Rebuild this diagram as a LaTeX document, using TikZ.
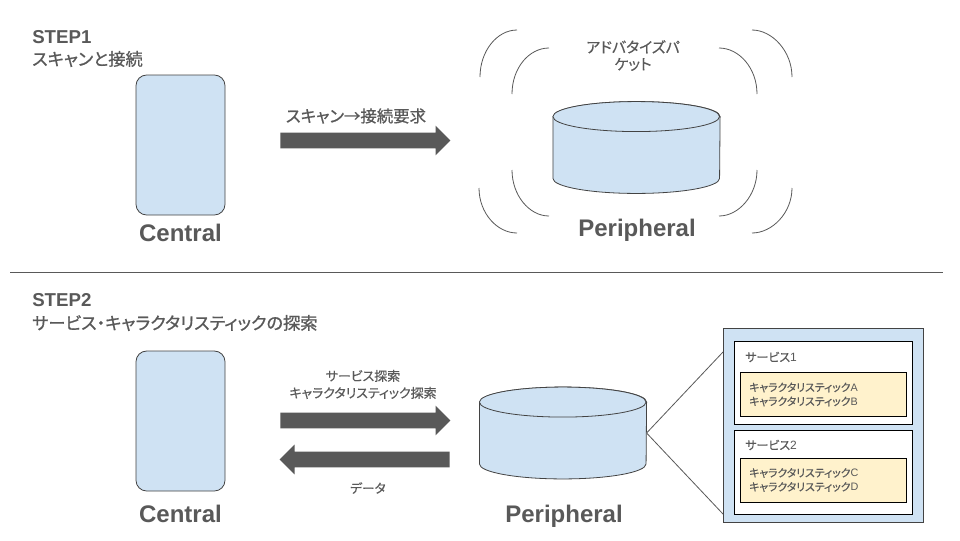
\documentclass[tikz,border=0pt]{standalone}
\usepackage{fontspec}
\setmainfont{Liberation Sans}
\newfontfamily\jp[RawFeature=+palt,FakeBold=0.3]{Noto Sans CJK JP}
\newfontfamily\jpm[RawFeature=+palt,FakeBold=0.9]{Noto Sans CJK JP}
\usetikzlibrary{shapes.arrows,calc}
\definecolor{txt}{HTML}{595959}
\definecolor{edge}{HTML}{434343}
\definecolor{blue1}{HTML}{CFE2F3}
\definecolor{yel}{HTML}{FFF2CC}
\tikzset{
  x=0.75pt,y=-0.75pt,
  lbl/.style={inner sep=0pt,text=txt,font=\jp},
  phone/.style={draw=edge,fill=blue1,rounded corners=8pt,line width=0.6pt,minimum width=66.75pt,minimum height=105pt,inner sep=0pt},
  cylbox/.style={inner sep=0pt,minimum width=125pt,minimum height=68.5pt},
  cylbody/.style={draw=edge,fill=blue1,line width=0.6pt},
  wave/.style={draw=txt,line width=0.6pt},
  bigarrow/.style={single arrow,fill=txt,draw=none,inner sep=0pt,text height=11.25pt,text depth=0pt,minimum height=127.5pt,single arrow head extend=5.25pt,single arrow head indent=0pt,shape border rotate=#1,anchor=tail},
  bigarrow/.default=0,
  outer/.style={draw=edge,fill=blue1,line width=0.7pt,inner sep=0pt,minimum width=150pt,minimum height=146pt},
  svc/.style={draw=black,fill=white,line width=0.7pt,inner sep=0pt,minimum width=133.5pt},
  chr/.style={draw=black,fill=yel,line width=0.7pt,inner sep=0pt,minimum width=124.5pt,minimum height=33pt},
  bigname/.style={inner sep=0pt,text=txt,font=\fontsize{18}{20}\selectfont\bfseries},
  head/.style={inner sep=0pt,text=txt,anchor=west,font=\fontsize{14}{16}\selectfont\bfseries},
  headjp/.style={inner sep=0pt,text=txt,anchor=west,font=\jpm\fontsize{12.9}{14}\selectfont},
}
\newcommand{\cyl}[1]{%
  \path[cylbody] ($(#1.north west)+(0,-11.25pt)$) -- ($(#1.south west)+(0,11.25pt)$)
    arc[start angle=180,end angle=360,x radius=62.5pt,y radius=11.25pt]
    -- ($(#1.north east)+(0,-11.25pt)$)
    arc[start angle=0,end angle=180,x radius=62.5pt,y radius=11.25pt] -- cycle;
  \path[cylbody] ($(#1.north west)+(0,-11.25pt)$)
    arc[start angle=180,end angle=540,x radius=62.5pt,y radius=11.25pt];
}
\begin{document}
\begin{tikzpicture}
\useasboundingbox (0,0) rectangle (960,540);
\fill[white] (0,0) rectangle (960,540);

% STEP 1
\node[head] (s1) at (32,37) {STEP1};
\node[headjp] (s1b) at (32,59) {スキャンと接続};
\node[phone] (c1) at (180.5,145) {};
\node[bigname] (c1l) at (180.5,233) {Central};
\node[bigarrow] (a1) at (280,140.5) {};
\node[lbl,font=\jpm\fontsize{12.3}{14}\selectfont] (a1l) at (356,116) {スキャン→接続要求};
\node[cylbox] (p1) at (636.5,147.5) {};
\node[bigname] (p1l) at (637,230) {Peripheral};
\node[lbl,align=center,font=\jp\fontsize{11.2}{12.75}\selectfont] (adv) at (633,55.5) {アドバタイズパ\\ケット};
\path[wave] (480,77) .. controls (480,51) and (497,30) .. (517,30);
\path[wave] (512,94) .. controls (512,68) and (529,48) .. (549,48);
\path[wave] (479,188) .. controls (479,213) and (497,233) .. (517,233);
\path[wave] (512,170) .. controls (512,195) and (529,216) .. (549,216);
\path[wave] (752,30) .. controls (772,30) and (792,51) .. (792,77);
\path[wave] (719,48) .. controls (739,48) and (757,68) .. (757,94);
\path[wave] (792,188) .. controls (792,213) and (772,233) .. (752,233);
\path[wave] (757,170) .. controls (757,195) and (739,216) .. (719,216);

% separator
\coordinate (sepl) at (10,272);
\coordinate (sepr) at (943,272);
\draw[draw=txt,line width=0.5pt] (sepl) -- (sepr);

% STEP 2
\node[head] (s2) at (32,300) {STEP2};
\node[headjp] (s2b) at (32,323) {サービス・キャラクタリスティックの探索};
\node[phone] (c2) at (180.5,421) {};
\node[bigname] (c2l) at (180.5,514) {Central};
\node[bigarrow] (a2) at (280,420.5) {};
\node[bigarrow=180] (a3) at (450,459.5) {};
\node[lbl,align=center,font=\jp\fontsize{9.7}{12.75}\selectfont] (a2l) at (363,384.5) {サービス探索\\キャラクタリスティック探索};
\node[lbl,font=\jp\fontsize{9.5}{11}\selectfont] (a3l) at (368,488) {データ};
\node[cylbox] (p2) at (563,433) {};
\node[bigname] (p2l) at (564,516) {Peripheral};

\node[outer] (box) at (823,425.5) {};
\node[svc,minimum height=62.25pt] (sv1) at (823,382.5) {};
\node[svc,minimum height=63pt] (sv2) at (823,472) {};
\node[chr] (ch1) at (823,394) {};
\node[chr] (ch2) at (823,480) {};
\node[lbl,anchor=west,font=\jp\fontsize{9}{10}\selectfont] (sv1l) at (745,357) {サービス\fontspec{Liberation Sans}1};
\node[lbl,anchor=west,font=\jp\fontsize{9}{10}\selectfont] (sv2l) at (745,445) {サービス\fontspec{Liberation Sans}2};
\node[lbl,anchor=west,align=left,font=\jp\fontsize{8.1}{10.5}\selectfont] (ch1l) at (749,394.5) {キャラクタリスティック\fontspec{Liberation Sans}A\\\jp キャラクタリスティック\fontspec{Liberation Sans}B};
\node[lbl,anchor=west,align=left,font=\jp\fontsize{8.1}{10.5}\selectfont] (ch2l) at (749,480) {キャラクタリスティック\fontspec{Liberation Sans}C\\\jp キャラクタリスティック\fontspec{Liberation Sans}D};
\coordinate (bt) at (723,352);
\coordinate (bb) at (723,514);
\draw[draw=txt,line width=0.6pt] (p2.east) -- (bt);
\draw[draw=txt,line width=0.6pt] (p2.east) -- (bb);

\cyl{p1}
\cyl{p2}
\end{tikzpicture}
\end{document}
